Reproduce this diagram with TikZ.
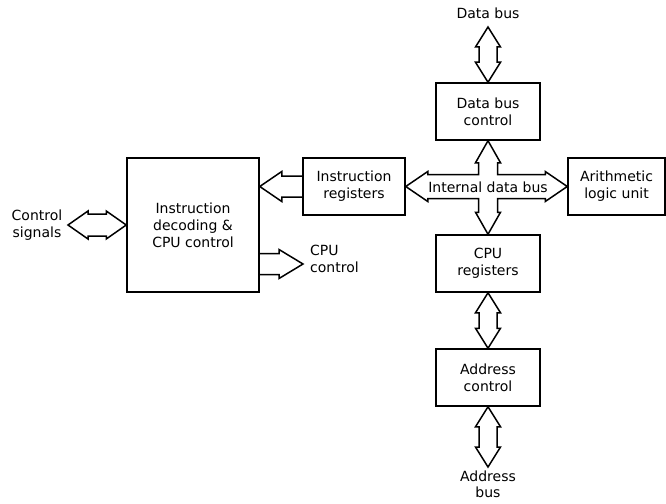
\documentclass[tikz,border=0pt]{standalone}
\usepackage{fontspec}
\setmainfont{DejaVu Sans}
\usetikzlibrary{calc}
\tikzset{
  blockbox/.style={draw, line width=1.5pt, inner sep=0pt, align=center,
    font=\fontsize{14}{17}\selectfont},
  lbl/.style={inner sep=0pt, align=center, font=\fontsize{14}{17}\selectfont},
  blk/.style={draw, line width=1.5pt, line join=miter},
}
\newcommand\vdbl[2]{\draw[blk] let \p1=(#1), \p2=(#2) in
  (\x1,\y1) -- (\x1+12.5pt,\y1-20pt) -- (\x1+9pt,\y1-20pt) -- (\x1+9pt,\y2+20pt)
  -- (\x1+12.5pt,\y2+20pt) -- (\x1,\y2) -- (\x1-12.5pt,\y2+20pt) -- (\x1-9pt,\y2+20pt)
  -- (\x1-9pt,\y1-20pt) -- (\x1-12.5pt,\y1-20pt) -- cycle;}
\begin{document}
\begin{tikzpicture}[x=1pt,y=-1pt]
\useasboundingbox (0,0) rectangle (666,503);
% boxes
\node[blockbox, minimum width=104pt, minimum height=57pt] (dbc) at (488,111.5) {Data bus\\control};
\node[blockbox, minimum width=102pt, minimum height=57pt] (ir) at (354,186.5) {Instruction\\registers};
\node[blockbox, minimum width=97pt, minimum height=57pt] (alu) at (616.5,186.5) {Arithmetic\\logic unit};
\node[blockbox, minimum width=104pt, minimum height=57pt] (cpur) at (488,263.5) {CPU\\registers};
\node[blockbox, minimum width=104pt, minimum height=57pt] (ac) at (488,377.5) {Address\\control};
\node[blockbox, minimum width=132pt, minimum height=134pt] (dec) at (193,225) {Instruction\\decoding \&\\CPU control};
% labels
\node[lbl] (dblabel) at (488,13) {Data bus};
\node[lbl, font=\fontsize{14}{16}\selectfont] (ablabel) at (488,484) {Address\\bus};
\node[lbl] (cslabel) at (37,225) {Control\\signals};
\node[lbl, align=left, anchor=west] (cclabel) at (310,259) {CPU\\control};
\coordinate (dbtop) at (488,27);
\coordinate (abbot) at (488,467);
\coordinate (cstip) at (68,225);
\coordinate (cctip) at (303,264);
% vertical double arrows
\vdbl{dbtop}{dbc.north}
\vdbl{cpur.south}{ac.north}
\vdbl{ac.south}{abbot}
% control signals double arrow
\draw[blk] let \p1=(cstip), \p2=(dec.west) in
  (\x1,\y1) -- (\x1+20pt,\y1+14pt) -- (\x1+20pt,\y1+11pt) -- (\x2-20pt,\y1+11pt)
  -- (\x2-20pt,\y1+14pt) -- (\x2,\y1) -- (\x2-20pt,\y1-14pt) -- (\x2-20pt,\y1-11pt)
  -- (\x1+20pt,\y1-11pt) -- (\x1+20pt,\y1-14pt) -- cycle;
% instruction registers -> decoding
\draw[blk] let \p1=(ir.west), \p2=(dec.east) in
  (\x1,\y1+10.5pt) -- (\x2+22pt,\y1+10.5pt) -- (\x2+22pt,\y1+15pt) -- (\x2,\y1)
  -- (\x2+22pt,\y1-15pt) -- (\x2+22pt,\y1-10.5pt) -- (\x1,\y1-10.5pt);
% CPU control arrow
\draw[blk] let \p1=(cctip), \p2=(dec.east) in
  (\x2,\y1+10.5pt) -- (\x1-24pt,\y1+10.5pt) -- (\x1-24pt,\y1+14.5pt) -- (\x1,\y1)
  -- (\x1-24pt,\y1-14.5pt) -- (\x1-24pt,\y1-10.5pt) -- (\x2,\y1-10.5pt);
% internal data bus cross
\draw[blk] let \p1=(dbc.south), \p2=(cpur.north), \p3=(ir.east), \p4=(alu.west) in
  (\x1,\y1) -- (\x1+12.5pt,\y1-22pt) -- (\x1+9.5pt,\y1-22pt) -- (\x1+9.5pt,\y3+12pt)
  -- (\x4-22pt,\y3+12pt) -- (\x4-22pt,\y3+15pt) -- (\x4,\y3) -- (\x4-22pt,\y3-15pt)
  -- (\x4-22pt,\y3-12pt) -- (\x1+9.5pt,\y3-12pt) -- (\x1+9.5pt,\y2+22pt)
  -- (\x1+12.5pt,\y2+22pt) -- (\x1,\y2) -- (\x1-12.5pt,\y2+22pt) -- (\x1-9.5pt,\y2+22pt)
  -- (\x1-9.5pt,\y3-12pt) -- (\x3+22pt,\y3-12pt) -- (\x3+22pt,\y3-15pt) -- (\x3,\y3)
  -- (\x3+22pt,\y3+15pt) -- (\x3+22pt,\y3+12pt) -- (\x1-9.5pt,\y3+12pt)
  -- (\x1-9.5pt,\y1-22pt) -- (\x1-12.5pt,\y1-22pt) -- cycle;
\node[lbl] (idb) at (488,187) {Internal data bus};
\end{tikzpicture}
\end{document}
